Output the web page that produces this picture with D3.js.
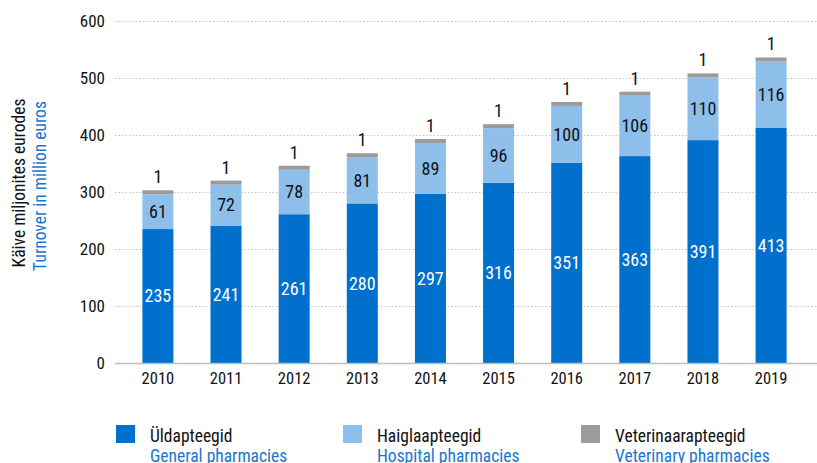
<!DOCTYPE html>
<html>
<head>
<meta charset="utf-8">
<script src="https://cdn.jsdelivr.net/npm/d3@7"></script>
<style>
  body { margin: 0; background: #fff; }
  svg text { font-family: "Roboto Condensed", "Liberation Sans Narrow", "DejaVu Sans Condensed", Roboto, sans-serif; font-stretch: condensed; }
</style>
</head>
<body>
<div id="chart"></div>
<script>
const years = ["2010", "2011", "2012", "2013", "2014", "2015", "2016", "2017", "2018", "2019"]
const general = [235, 241, 261, 280, 297, 316, 351, 363, 391, 413]
const hospital = [61, 72, 78, 81, 89, 96, 100, 106, 110, 116]
const veterinary = [1, 1, 1, 1, 1, 1, 1, 1, 1, 1]
const yTicks = [0, 100, 200, 300, 400, 500, 600]

const seriesKeys = ["general", "hospital", "veterinary"]
const seriesColors = { general: "#0070cd", hospital: "#8dbfea", veterinary: "#9b9b9b" }
const legendEt = ["Üldapteegid", "Haiglaapteegid", "Veterinaarapteegid"]
const legendEn = ["General pharmacies", "Hospital pharmacies", "Veterinary pharmacies"]
const titleEt = "Käive miljonites eurodes"
const titleEn = "Turnover in million euros"
const blueText = "#1a76d0"

const width = 817, height = 463
const margin = { top: 21, right: 12, bottom: 100, left: 124 }

var svg = d3.select("#chart").append("svg")
    .attr("width", width)
    .attr("height", height)

var table = years.map((y, i) => ({ year: y, general: general[i], hospital: hospital[i], veterinary: veterinary[i] }))
var stacked = d3.stack().keys(seriesKeys)(table)

var x = d3.scaleBand()
    .domain(years)
    .range([margin.left, width - margin.right])
    .paddingInner(0.545)
    .paddingOuter(0.27)

var y = d3.scaleLinear()
    .domain([0, 600])
    .range([height - margin.bottom, margin.top])

// Grid lines (dotted)
svg.append("g")
    .selectAll("line")
    .data(yTicks.filter(d => d > 0))
    .join("line")
    .attr("x1", 115)
    .attr("x2", width)
    .attr("y1", d => Math.round(y(d)) + 0.5)
    .attr("y2", d => Math.round(y(d)) + 0.5)
    .attr("stroke", "#c4c4c4")
    .attr("stroke-width", 1)
    .attr("stroke-dasharray", "1.5,2")

// Y axis labels
var yAxis = svg.append("g")
    .attr("transform", "translate(110,0)")
    .call(d3.axisLeft(y).tickValues(yTicks).tickSize(0).tickPadding(5))
yAxis.select(".domain").remove()
yAxis.selectAll("text")
    .style("font-size", "17px")
    .attr("fill", "#111")

// Bars
svg.append("g")
    .selectAll("g")
    .data(stacked)
    .join("g")
    .attr("fill", d => seriesColors[d.key])
    .selectAll("rect")
    .data(d => d.map(s => Object.assign({ key: d.key }, s)))
    .join("rect")
    .attr("x", d => x(d.data.year))
    .attr("width", x.bandwidth())
    .attr("y", d => d.key == "veterinary" ? Math.min(y(d[1]), y(d[0]) - 4) : y(d[1]))
    .attr("height", d => d.key == "veterinary" ? Math.max(y(d[0]) - y(d[1]), 4) : y(d[0]) - y(d[1]))

// Baseline
svg.append("line")
    .attr("x1", 115)
    .attr("x2", width)
    .attr("y1", y(0) + 0.5)
    .attr("y2", y(0) + 0.5)
    .attr("stroke", "#bdbdbd")
    .attr("stroke-width", 1.5)

// Value labels
var labelG = svg.append("g").style("font-size", "18px").attr("text-anchor", "middle")
stacked.forEach(layer => {
    layer.forEach(d => {
        let cx = x(d.data.year) + x.bandwidth() / 2
        let v = d[1] - d[0]
        if (layer.key == "veterinary") {
            labelG.append("text")
                .attr("x", cx)
                .attr("y", y(d[0]) - 11)
                .attr("fill", "#111")
                .text(v)
        } else {
            labelG.append("text")
                .attr("x", cx)
                .attr("y", (y(d[0]) + y(d[1])) / 2)
                .attr("dy", "0.35em")
                .attr("fill", layer.key == "general" ? "#fff" : "#111")
                .text(v)
        }
    })
})

// X axis labels
var xAxis = svg.append("g")
    .attr("transform", "translate(0," + y(0) + ")")
    .call(d3.axisBottom(x).tickSize(0).tickPadding(9))
xAxis.select(".domain").remove()
xAxis.selectAll("text")
    .style("font-size", "16.5px")
    .attr("fill", "#111")

// Y axis title
var titleG = svg.append("g")
    .attr("transform", "translate(0,183) rotate(-90)")
    .attr("text-anchor", "middle")
    .style("font-size", "17.5px")
titleG.append("text").attr("x", 0).attr("y", 25).attr("fill", "#111").text(titleEt)
titleG.append("text").attr("x", -3).attr("y", 46).attr("fill", blueText).text(titleEn)

// Legend
var legendX = [116, 343, 581]
var legend = svg.append("g")
legendEt.forEach((name, i) => {
    let g = legend.append("g").attr("transform", "translate(" + legendX[i] + ",425)")
    g.append("rect")
        .attr("width", 19)
        .attr("height", 18)
        .attr("fill", seriesColors[seriesKeys[i]])
    g.append("text")
        .attr("x", 34)
        .attr("y", 17)
        .style("font-size", "17.5px")
        .attr("fill", "#111")
        .text(name)
    g.append("text")
        .attr("x", 34)
        .attr("y", 37)
        .style("font-size", "17.5px")
        .attr("fill", blueText)
        .text(legendEn[i])
})
</script>
</body>
</html>
